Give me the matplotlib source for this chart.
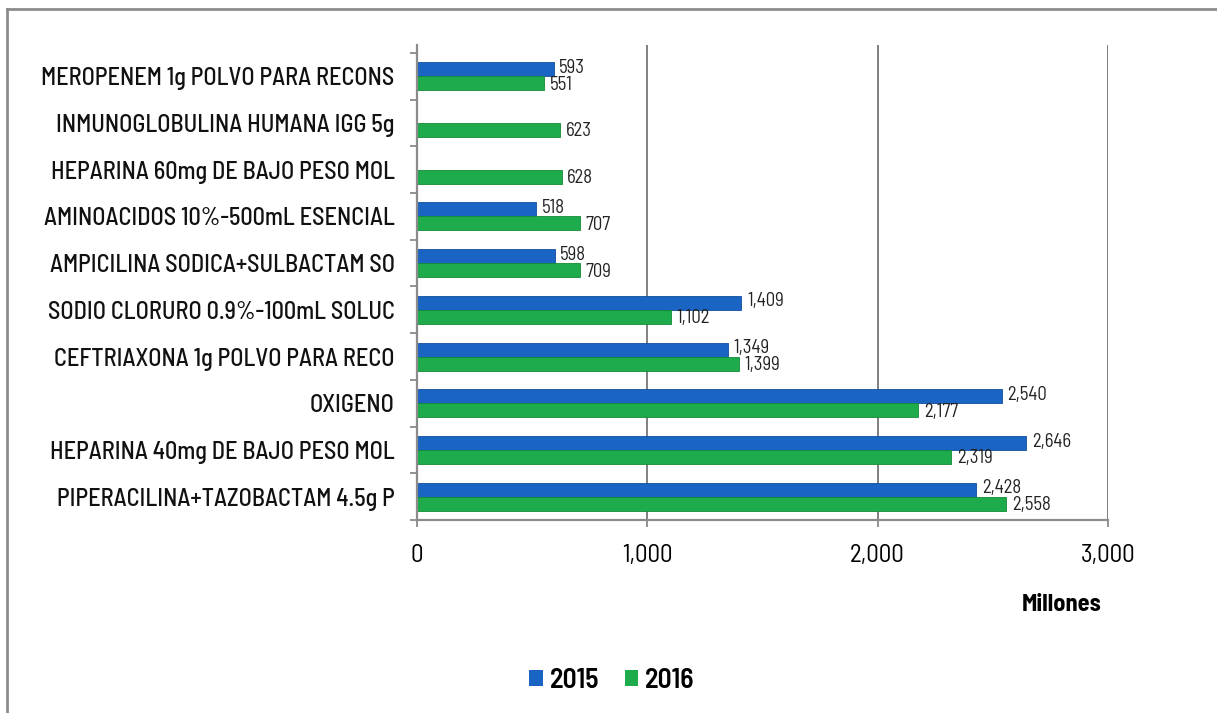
import matplotlib
matplotlib.use("Agg")
import matplotlib.pyplot as plt
from matplotlib.lines import Line2D
from matplotlib.patches import Patch
import numpy as np

categories = [
    "MEROPENEM 1g POLVO PARA RECONS",
    "INMUNOGLOBULINA HUMANA IGG 5g",
    "HEPARINA 60mg DE BAJO PESO MOL",
    "AMINOACIDOS 10%-500mL ESENCIAL",
    "AMPICILINA SODICA+SULBACTAM SO",
    "SODIO CLORURO 0.9%-100mL SOLUC",
    "CEFTRIAXONA 1g POLVO PARA RECO",
    "OXIGENO",
    "HEPARINA 40mg DE BAJO PESO MOL",
    "PIPERACILINA+TAZOBACTAM 4.5g P",
]
values_2015 = [593, None, None, 518, 598, 1409, 1349, 2540, 2646, 2428]
values_2016 = [551, 623, 628, 707, 709, 1102, 1399, 2177, 2319, 2558]
x_ticks = [0, 1000, 2000, 3000]
x_ticklabels = ["0", "1,000", "2,000", "3,000"]

BLUE = "#1a64c4"
GREEN = "#1eab4c"
FONT = ["Barlow Semi Condensed", "Liberation Sans", "DejaVu Sans"]
plt.rcParams['font.family'] = FONT

fig = plt.figure(figsize=(12.17, 7.13), dpi=100)
ax = fig.add_axes([0.3426, 0.2707, 0.9104 - 0.3426, 0.9369 - 0.2707])

n = len(categories)
y = np.arange(n)
h = 0.3
for i in range(n):
    v15 = values_2015[i]
    v16 = values_2016[i]
    if v15 is not None:
        ax.barh(y[i] - h / 2, v15, height=h, color=BLUE, edgecolor="#0f4f9e", linewidth=0.6)
        ax.annotate(f"{v15:,}", (v15, y[i] - h / 2), xytext=(4, 1), textcoords="offset points",
                    va="center", ha="left", fontsize=13.5, color="#222222")
    ax.barh(y[i] + h / 2, v16, height=h, color=GREEN, edgecolor="#128a38", linewidth=0.6)
    ax.annotate(f"{v16:,}", (v16, y[i] + h / 2), xytext=(4, -1), textcoords="offset points",
                va="center", ha="left", fontsize=13.5, color="#222222")

ax.set_ylim(n - 0.5, -0.67)
ax.set_xlim(0, 3000)
ax.set_xticks(x_ticks)
ax.set_xticklabels(x_ticklabels, fontsize=18)
ax.set_yticks(y)
ax.set_yticklabels(categories, fontsize=17.5, fontweight=500, color="#111111")
ax.set_yticks(np.arange(n + 1) - 0.5, minor=True)
ax.tick_params(axis="y", which="major", length=0, pad=16)
ax.tick_params(axis="y", which="minor", length=5, color="#808080", width=1.2)
ax.tick_params(axis="x", length=5, color="#808080", width=1.2, pad=12)
ax.grid(axis="x", color="#808080", linewidth=1.4)
ax.set_axisbelow(True)
for s in ["top", "right"]:
    ax.spines[s].set_visible(False)
for s in ["left", "bottom"]:
    ax.spines[s].set_color("#8c8c8c")
    ax.spines[s].set_linewidth(1.6)

fig.text(1062 / 1217, 1 - 605 / 713, "Millones", ha="center", va="center",
         fontsize=17.5, fontweight="bold")

handles = [Patch(facecolor=BLUE, label="2015"), Patch(facecolor=GREEN, label="2016")]
fig.legend(handles=handles, loc="center", bbox_to_anchor=(612 / 1217, 1 - 680 / 713),
           ncol=2, frameon=False, handlelength=0.5, handleheight=0.5,
           handletextpad=0.25, columnspacing=0.9,
           prop={"family": FONT, "size": 20, "weight": 600})

fig.add_artist(Line2D([7 / 1217, 1], [1 - 9 / 713, 1 - 9 / 713], transform=fig.transFigure,
                      color="#8c8c8c", linewidth=2))
fig.add_artist(Line2D([7 / 1217, 7 / 1217], [0, 1 - 9 / 713], transform=fig.transFigure,
                      color="#8c8c8c", linewidth=2))

fig.savefig("out.png", dpi=100, facecolor="white")
